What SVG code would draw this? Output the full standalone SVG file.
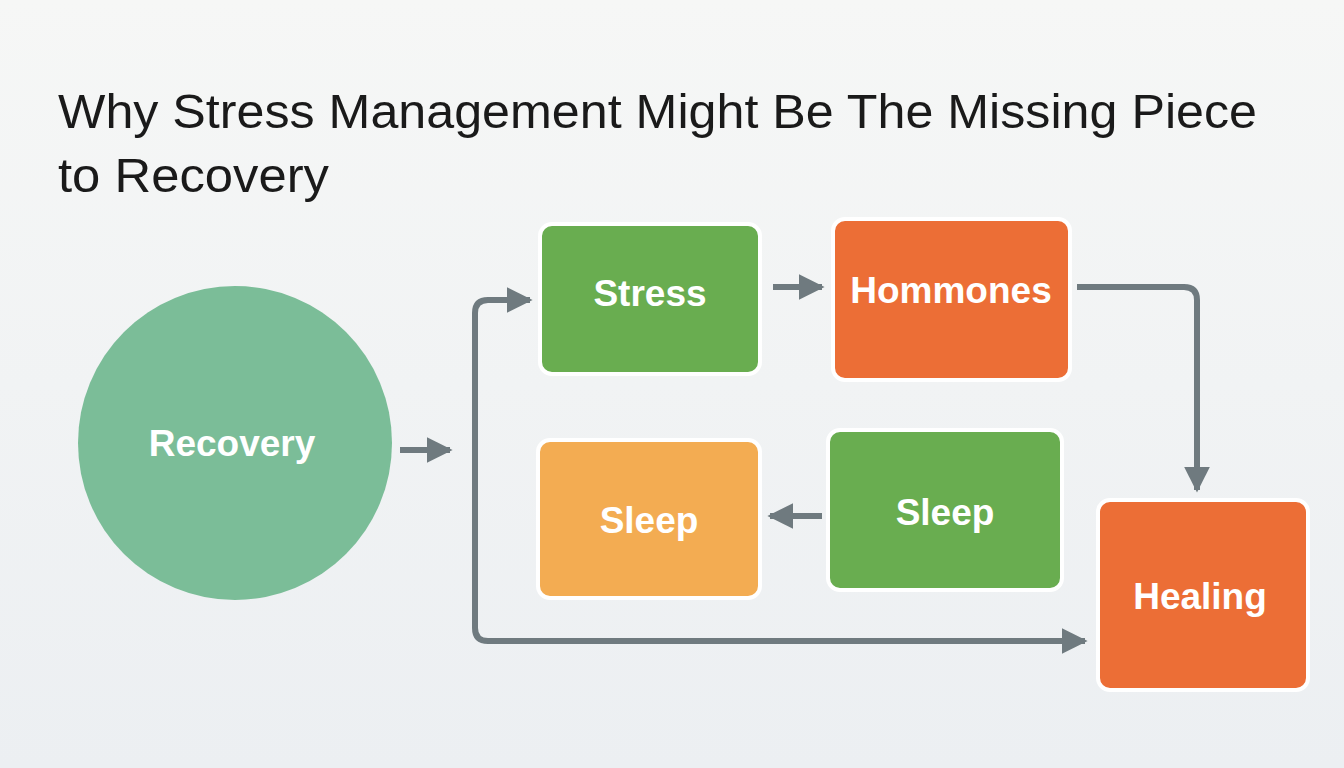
<svg xmlns="http://www.w3.org/2000/svg" width="1344" height="768" viewBox="0 0 1344 768">
<defs>
<linearGradient id="bg" x1="0" y1="0" x2="0" y2="1"><stop offset="0" stop-color="#f6f7f6"/><stop offset="1" stop-color="#eceff2"/></linearGradient>
<marker id="a" viewBox="0 0 10 10" refX="9" refY="5" markerWidth="26" markerHeight="26" markerUnits="userSpaceOnUse" orient="auto"><path d="M0,0 L10,5 L0,10 z" fill="#6f7a7f"/></marker>
</defs>
<style>
.t{font-family:"Liberation Sans",Arial,sans-serif;}
.lab{font-family:"Liberation Sans",Arial,sans-serif;font-size:37px;font-weight:bold;fill:#fff;text-anchor:middle;dominant-baseline:central;}
.box{stroke:#fff;stroke-width:4;}
.c{fill:none;stroke:#6f7a7f;stroke-width:6;marker-end:url(#a);}
</style>
<rect width="1344" height="768" fill="url(#bg)"/>
<text class="t" x="58" y="128" font-size="48.5" textLength="1199" lengthAdjust="spacingAndGlyphs" fill="#1a1a1a">Why Stress Management Might Be The Missing Piece</text>
<text class="t" x="58" y="192" font-size="48.5" textLength="271" lengthAdjust="spacingAndGlyphs" fill="#1a1a1a">to Recovery</text>
<g id="connectors">
<path class="c" d="M400,450 L450,450"/>
<path class="c" d="M773,287 L822,287"/>
<path class="c" d="M1077,287 L1184,287 Q1197,287 1197,300 L1197,490"/>
<path class="c" d="M822,516 L770,516"/>
<path class="c" d="M475,600 L475,313 Q475,300 488,300 L530,300"/>
<path class="c" d="M475,600 L475,628 Q475,641 488,641 L1085,641"/>
</g>
<g id="recovery"><circle cx="235" cy="443" r="157" fill="#7bbd98"/><text class="lab" x="232" y="443" font-size="40">Recovery</text></g>
<g id="stress"><rect class="box" x="540" y="224" width="220" height="150" rx="12" fill="#69ad50"/><text class="lab" x="650" y="293">Stress</text></g>
<g id="hormones"><rect class="box" x="833" y="219" width="237" height="161" rx="12" fill="#ec6e36"/><text class="lab" x="951" y="290">Hommones</text></g>
<g id="sleep-green"><rect class="box" x="828" y="430" width="234" height="160" rx="12" fill="#69ad50"/><text class="lab" x="945" y="512">Sleep</text></g>
<g id="sleep-orange"><rect class="box" x="538" y="440" width="222" height="158" rx="12" fill="#f3ac52"/><text class="lab" x="649" y="520">Sleep</text></g>
<g id="healing"><rect class="box" x="1098" y="500" width="210" height="190" rx="12" fill="#ec6e36"/><text class="lab" x="1200" y="596">Healing</text></g>
</svg>
